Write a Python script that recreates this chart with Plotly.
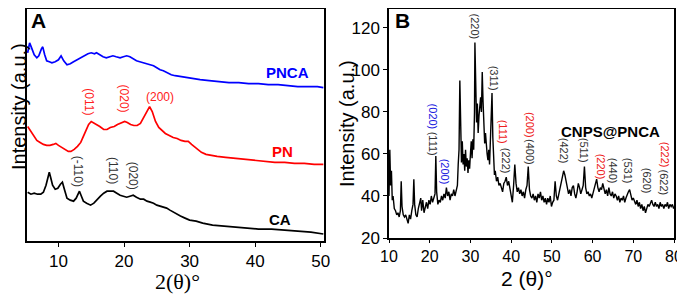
import plotly.graph_objects as go

# ---------------- Panel A data (2theta, intensity a.u.) ----------------
pnca_x = [5.3, 5.6, 5.9, 6.3, 6.7, 7.0, 7.4, 7.6, 7.9, 8.2, 8.6, 9.0, 9.5, 10.0, 10.4, 10.8, 11.3, 11.8,
          12.3, 12.8, 13.4, 14.0, 14.5, 15.0, 15.5, 15.8, 16.3, 16.8, 17.3, 17.8, 18.3, 18.8, 19.4, 19.9,
          20.4, 20.9, 21.4, 21.9, 22.4, 22.9, 23.5, 24.0, 24.5, 25.0, 25.5, 26.0, 26.6, 27.2, 27.8, 28.6,
          29.5, 30.5, 31.6, 33.0, 34.5, 36.0, 37.5, 39.0, 40.5, 42.0, 43.5, 45.0, 46.5, 48.0, 49.5, 50.4]
pnca_y = [189, 199, 194, 187, 184, 186, 193, 195, 187, 181, 180, 179, 180, 182, 186, 181, 177, 178,
          180, 182, 184, 186, 188, 189, 188, 189, 187, 185, 184, 185, 186, 185, 184, 185,
          186, 185, 183, 181, 180, 179, 178, 177, 176, 174, 172, 171, 169, 167, 166, 165,
          164, 163, 162, 161, 160, 159, 159, 158, 158, 157, 157, 156, 155, 155, 155, 154]

pn_x = [5.3, 5.7, 6.2, 6.7, 7.2, 7.7, 8.2, 8.7, 9.2, 9.6, 10.0, 10.5, 11.0, 11.5, 11.9, 12.4, 12.9, 13.4,
        13.8, 14.2, 14.6, 15.0, 15.3, 15.8, 16.3, 16.9, 17.4, 17.9, 18.5, 19.0, 19.6, 20.1, 20.5, 21.0,
        21.5, 22.0, 22.5, 23.0, 23.5, 23.9, 24.3, 24.8, 25.3, 25.8, 26.3, 26.9, 27.5, 28.1, 28.7, 29.3,
        29.8, 30.3, 30.8, 31.3, 31.8, 32.5, 33.3, 34.2, 35.5, 37.0, 38.5, 40.0, 41.5, 43.0, 44.5, 46.0,
        47.5, 49.0, 50.4]
pn_y = [115, 111, 105, 101, 99, 97, 96, 96, 97, 98, 96, 94, 92, 90, 90, 92, 95, 99,
        105, 112, 117, 120, 119, 117, 115, 112, 112, 114, 115, 117, 119, 120, 119, 117,
        116, 116, 118, 124, 131, 135, 130, 120, 114, 111, 108, 106, 104, 103, 101, 100,
        100, 97, 94, 91, 89, 87, 86, 85, 84, 83, 82, 81, 80, 79, 79, 78,
        78, 77, 77]

ca_x = [5.3, 5.8, 6.3, 6.8, 7.3, 7.7, 8.1, 8.4, 8.6, 8.8, 9.1, 9.5, 9.9, 10.3, 10.6, 10.9, 11.3, 11.8,
        12.3, 12.7, 13.0, 13.2, 13.5, 13.8, 14.3, 14.9, 15.4, 15.9, 16.4, 16.9, 17.4, 17.9, 18.4, 18.9,
        19.4, 19.9, 20.4, 20.9, 21.4, 21.9, 22.5, 23.0, 23.5, 24.0, 24.5, 25.0, 25.5, 26.0, 26.5, 27.0,
        27.5, 28.0, 28.6, 29.3, 30.0, 31.0, 32.0, 33.5, 35.0, 36.6, 38.5, 40.5, 42.5, 44.5, 46.8, 48.5,
        50.4]
ca_y = [49, 47, 48, 47, 47, 49, 56, 65, 69, 64, 56, 52, 53, 57, 59, 52, 43, 41,
        40, 43, 48, 50, 45, 40, 38, 36, 38, 42, 45, 48, 50, 50, 50, 48,
        46, 45, 44, 45, 46, 44, 42, 42, 40, 39, 38, 36, 35, 34, 33, 31,
        29, 27, 25, 23, 21, 20, 18, 16, 15, 14, 13, 12, 12, 11, 10, 9,
        7]

a_peak_labels = ["(011)", "(020)", "(200)"]
a_peak_x = [14.7, 20.0, 25.5]
a_peak_y = [140, 143, 145]
a_ca_labels = ["(-110)", "(110)", "(020)"]
a_ca_x = [12.9, 18.2, 21.3]
a_ca_y = [70, 71, 66]
a_names = ["PNCA", "PN", "CA"]
a_name_x = [45.0, 44.2, 43.8]
a_name_y = [169, 90, 22]
a_ticks = [10, 20, 30, 40, 50]

# ---------------- Panel B data ----------------
b_x = [10.0, 10.2, 10.4, 10.6, 10.8, 11.0, 11.3, 11.6, 11.9, 12.2, 12.5, 12.8, 13.0, 13.2, 13.5, 13.8,
       14.1, 14.4, 14.7, 15.0, 15.3, 15.6, 15.9, 16.1, 16.3, 16.6, 16.9, 17.2, 17.5, 17.8, 18.0, 18.3,
       18.6, 18.9, 19.2, 19.5, 19.8, 20.1, 20.4, 20.7, 21.0, 21.3, 21.5, 21.7, 22.0, 22.3, 22.6, 22.9,
       23.2, 23.5, 23.8, 24.1, 24.4, 24.7, 25.0, 25.3, 25.6, 25.9, 26.2, 26.5, 26.8, 27.0, 27.2, 27.4,
       27.6, 27.8, 28.0, 28.2, 28.4, 28.6, 28.8, 29.0, 29.2, 29.4, 29.6, 29.8, 30.0, 30.2, 30.4, 30.6,
       30.8, 31.0, 31.1, 31.3, 31.5, 31.7, 31.9, 32.1, 32.3, 32.5, 32.7, 32.9, 33.1, 33.3, 33.5, 33.7,
       33.9, 34.1, 34.3, 34.5, 34.7, 34.9, 35.1, 35.3, 35.5, 35.7, 35.9, 36.1, 36.4, 36.7, 37.0, 37.3,
       37.6, 37.9, 38.2, 38.5, 38.8, 39.1, 39.4, 39.7, 40.0, 40.3, 40.6, 40.9, 41.2, 41.5, 41.8, 42.1,
       42.4, 42.7, 43.0, 43.3, 43.6, 43.9, 44.2, 44.5, 44.8, 45.1, 45.4, 45.7, 46.0, 46.3, 46.6, 46.9,
       47.2, 47.5, 47.8, 48.1, 48.4, 48.7, 49.0, 49.3, 49.6, 49.9, 50.2, 50.5, 50.8, 51.1, 51.4, 51.7,
       52.0, 52.3, 52.6, 52.9, 53.2, 53.5, 53.8, 54.1, 54.4, 54.7, 55.0, 55.3, 55.6, 55.9, 56.2, 56.5,
       56.8, 57.1, 57.4, 57.7, 58.0, 58.3, 58.6, 58.9, 59.2, 59.5, 59.8, 60.1, 60.4, 60.7, 61.0, 61.3,
       61.6, 61.9, 62.2, 62.5, 62.8, 63.1, 63.4, 63.7, 64.0, 64.3, 64.6, 64.9, 65.2, 65.5, 65.8, 66.1,
       66.4, 66.7, 67.0, 67.3, 67.6, 67.9, 68.2, 68.5, 68.8, 69.1, 69.4, 69.7, 70.0, 70.3, 70.6, 70.9,
       71.2, 71.5, 71.8, 72.1, 72.4, 72.7, 73.0, 73.3, 73.6, 73.9, 74.2, 74.5, 74.8, 75.1, 75.4, 75.7,
       76.0, 76.3, 76.6, 76.9, 77.2, 77.5, 77.8, 78.1, 78.4, 78.7, 79.0, 79.3, 79.6, 79.9, 80.0]
b_y = [40, 62, 45, 52, 38, 40, 34, 33, 31, 32, 30, 33, 47, 35, 31, 30,
       31, 29, 27, 31, 29, 33, 36, 48, 36, 31, 30, 34, 36, 39, 33, 38,
       32, 35, 37, 34, 38, 36, 40, 37, 39, 41, 59, 42, 36, 38, 37, 40,
       38, 41, 39, 44, 40, 42, 38, 41, 40, 43, 40, 42, 45, 55, 62, 95,
       60, 56, 66, 55, 60, 52, 62, 54, 58, 51, 57, 53, 60, 66, 58, 67,
       62, 80, 113, 84, 75, 84, 70, 78, 86, 87, 80, 99, 85, 72, 65, 70,
       62, 60, 57, 62, 55, 65, 70, 89, 68, 55, 50, 52, 47, 49, 45, 46,
       44, 42, 46, 47, 49, 45, 47, 44, 41, 37, 45, 55, 46, 42, 44, 41,
       43, 40, 42, 39, 43, 45, 54, 43, 40, 39, 41, 38, 40, 37, 41, 39,
       42, 38, 40, 37, 39, 36, 39, 37, 40, 35, 37, 38, 47, 40, 38, 41,
       44, 46, 50, 52, 50, 47, 44, 41, 43, 40, 44, 45, 41, 39, 42, 46,
       44, 41, 43, 45, 54, 44, 41, 42, 40, 41, 39, 41, 43, 45, 48, 44,
       42, 44, 43, 46, 44, 41, 43, 40, 44, 41, 40, 42, 39, 41, 40, 38,
       40, 37, 39, 38, 40, 37, 39, 41, 42, 43, 40, 38, 39, 37, 36, 38,
       35, 37, 34, 36, 33, 35, 32, 34, 36, 35, 37, 38, 36, 35, 37, 35,
       36, 34, 37, 35, 36, 34, 36, 35, 37, 34, 36, 35, 36, 34, 35]

b_labels = ["(020)", "(111)", "(200)", "(220)", "(311)", "(111)", "(222)", "(200)", "(400)",
            "(422)", "(511)", "(220)", "(440)", "(531)", "(620)", "(222)", "(622)"]
b_label_x = [20.8, 20.8, 23.8, 31.1, 36.0, 38.0, 38.7, 44.6, 44.6,
             53.0, 57.9, 62.1, 65.0, 68.7, 73.4, 77.8, 77.6]
b_label_y = [77.8, 64.9, 51.5, 120.7, 95.9, 70.6, 56.8, 73.9, 61.0,
             61.5, 62.0, 53.9, 52.0, 52.0, 47.2, 59.6, 46.3]
b_label_color = ["#2020e0", "#333333", "#2020e0", "#333333", "#333333", "#ee2020", "#333333",
                 "#ee2020", "#333333", "#333333", "#333333", "#ee2020", "#333333", "#333333",
                 "#333333", "#ee2020", "#333333"]
b_xticks = [10, 20, 30, 40, 50, 60, 70, 80]
b_yticks = [20, 40, 60, 80, 100, 120]

FONT = "Liberation Sans, Arial, sans-serif"
# the page body has an 8px margin: the figure starts 8px in, so map window pixels
OX, OY = 8, 8
W, H = 677, 286


def fx(px):
    return min(1.0, max(0.0, (px - OX) / W))


def fy(py):
    return min(1.0, max(0.0, 1 - (py - OY) / H))


fig = go.Figure()
fig.add_trace(go.Scatter(x=pnca_x, y=pnca_y, mode="lines", line=dict(color="#0000ff", width=1.7),
                         xaxis="x", yaxis="y", showlegend=False))
fig.add_trace(go.Scatter(x=pn_x, y=pn_y, mode="lines", line=dict(color="#ff0000", width=1.7),
                         xaxis="x", yaxis="y", showlegend=False))
fig.add_trace(go.Scatter(x=ca_x, y=ca_y, mode="lines", line=dict(color="#000000", width=1.7),
                         xaxis="x", yaxis="y", showlegend=False))
fig.add_trace(go.Scatter(x=b_x, y=b_y, mode="lines", line=dict(color="#000000", width=1.4),
                         xaxis="x2", yaxis="y2", showlegend=False))

ann = []
for t, x, y in zip(a_peak_labels, a_peak_x, a_peak_y):
    ann.append(dict(x=x, y=y, xref="x", yref="y", text=t, showarrow=False,
                    textangle=0 if t == "(200)" else 90,
                    font=dict(family=FONT, size=12, color="#ff2020")))
for t, x, y in zip(a_ca_labels, a_ca_x, a_ca_y):
    ann.append(dict(x=x, y=y, xref="x", yref="y", text=t, showarrow=False, textangle=90,
                    font=dict(family=FONT, size=12, color="#333333")))
for t, x, y, c in zip(a_names, a_name_x, a_name_y, ["#0000ff", "#ff0000", "#000000"]):
    ann.append(dict(x=x, y=y, xref="x", yref="y", text="<b>%s</b>" % t, showarrow=False,
                    font=dict(family=FONT, size=15, color=c)))
for t, x, y, c in zip(b_labels, b_label_x, b_label_y, b_label_color):
    ann.append(dict(x=x, y=y, xref="x2", yref="y2", text=t, showarrow=False, textangle=90,
                    font=dict(family=FONT, size=11, color=c)))
ann.append(dict(x=64.3, y=70.6, xref="x2", yref="y2", text="<b>CNPS@PNCA</b>", showarrow=False,
                font=dict(family=FONT, size=15, color="#000000")))


def paper_text(px, py, text, size, angle=0, family=FONT):
    return dict(x=fx(px), y=fy(py), xref="paper", yref="paper", text=text, showarrow=False,
                xanchor="center", yanchor="middle", textangle=angle,
                font=dict(family=family, size=size, color="black"))


ann.append(paper_text(38, 21, "<b>A</b>", 21))
ann.append(paper_text(402, 21, "<b>B</b>", 21))
ann.append(paper_text(19, 107, "Intensity (a.u.)", 20, -90))
ann.append(paper_text(347, 124, "Intensity (a.u.)", 20, -90))
ann.append(paper_text(177, 281, "2(θ)°", 22, 0, "Liberation Serif, Times New Roman, serif"))
ann.append(paper_text(527, 278, "2 (θ)°", 21))

line_common = dict(showline=True, linecolor="black", linewidth=1.5, mirror=True, showgrid=False,
                   zeroline=False, automargin=False)
tick_common = dict(ticks="outside", tickwidth=1.2, tickcolor="black")

fig.update_layout(
    width=W, height=H,
    margin=dict(l=0, r=0, t=0, b=0, pad=0),
    paper_bgcolor="white", plot_bgcolor="white",
    annotations=ann,
    xaxis=dict(domain=[fx(27), fx(324)], range=[5.2, 50.5], tickvals=a_ticks, anchor="y",
               ticklen=4, ticklabelstandoff=0, tickfont=dict(family=FONT, size=17, color="black"),
               **line_common, **tick_common),
    yaxis=dict(domain=[fy(241), fy(9)], range=[0, 233], anchor="x",
               showticklabels=False, ticks="", **line_common),
    xaxis2=dict(domain=[fx(389), fx(674)], range=[10, 80], tickvals=b_xticks, anchor="y2",
                ticklen=3, tickfont=dict(family=FONT, size=16, color="black"),
                **line_common, **tick_common),
    yaxis2=dict(domain=[fy(238), fy(9)], range=[20, 129], tickvals=b_yticks, anchor="x2",
                ticklen=4, tickfont=dict(family=FONT, size=17, color="black"),
                **line_common, **tick_common),
)

fig.write_html("out.html")
